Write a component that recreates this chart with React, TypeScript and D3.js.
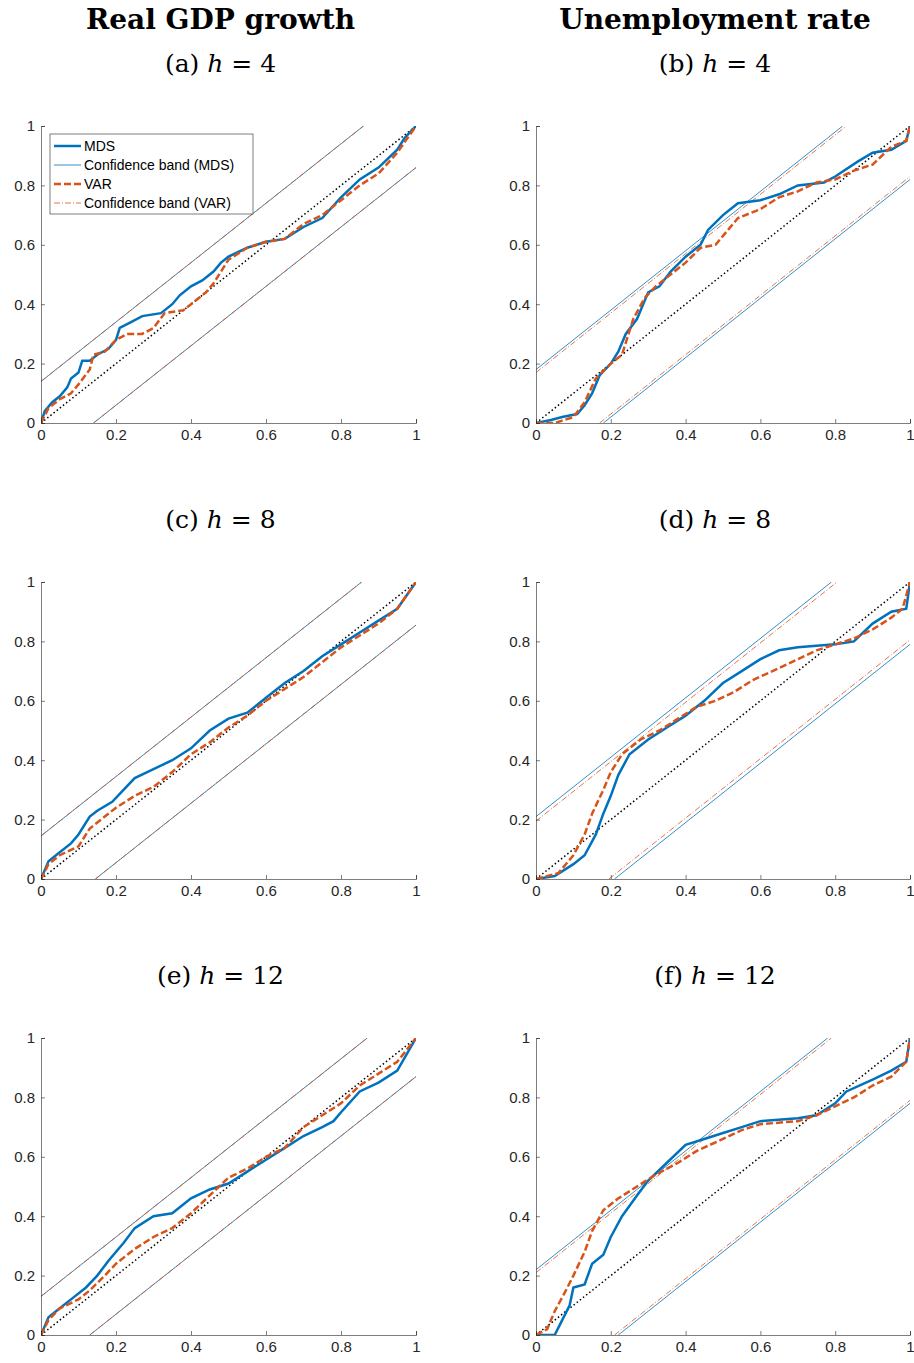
import React, { useEffect, useRef } from 'react';
import * as d3 from 'd3';

type P = [number, number];

const colTitles = ['Real GDP growth', 'Unemployment rate'];
const panelLetters = ['a', 'b', 'c', 'd', 'e', 'f'];
const horizons = [4, 4, 8, 8, 12, 12];
const ticks = [0, 0.2, 0.4, 0.6, 0.8, 1];

// band half-widths [MDS, VAR]
const bands: P[] = [[0.14, 0.14], [0.18, 0.17], [0.145, 0.145], [0.21, 0.195], [0.13, 0.13], [0.22, 0.21]];

const mdsCurves: P[][] = [
  [[0,0],[0.01,0.04],[0.03,0.07],[0.05,0.09],[0.07,0.12],[0.08,0.15],[0.1,0.17],[0.11,0.21],[0.13,0.21],[0.15,0.23],[0.18,0.25],[0.2,0.28],[0.21,0.32],[0.24,0.34],[0.27,0.36],[0.32,0.37],[0.35,0.4],[0.37,0.43],[0.4,0.46],[0.43,0.48],[0.46,0.51],[0.48,0.54],[0.5,0.56],[0.55,0.59],[0.6,0.61],[0.65,0.62],[0.7,0.66],[0.75,0.69],[0.8,0.76],[0.85,0.82],[0.9,0.86],[0.95,0.92],[0.97,0.96],[1,1]],
  [[0,0],[0.04,0.01],[0.07,0.02],[0.11,0.03],[0.13,0.06],[0.15,0.1],[0.17,0.16],[0.2,0.2],[0.22,0.24],[0.24,0.3],[0.27,0.35],[0.3,0.44],[0.33,0.46],[0.36,0.51],[0.4,0.56],[0.44,0.6],[0.46,0.65],[0.5,0.7],[0.54,0.74],[0.6,0.75],[0.65,0.77],[0.7,0.8],[0.77,0.81],[0.8,0.83],[0.86,0.88],[0.9,0.91],[0.95,0.92],[0.99,0.95],[1,1]],
  [[0,0],[0.02,0.06],[0.05,0.09],[0.08,0.12],[0.1,0.15],[0.13,0.21],[0.15,0.23],[0.19,0.26],[0.22,0.3],[0.25,0.34],[0.3,0.37],[0.35,0.4],[0.4,0.44],[0.45,0.5],[0.5,0.54],[0.55,0.56],[0.6,0.61],[0.65,0.66],[0.7,0.7],[0.75,0.75],[0.8,0.79],[0.85,0.83],[0.9,0.87],[0.95,0.91],[1,1]],
  [[0,0],[0.05,0.01],[0.1,0.05],[0.13,0.08],[0.16,0.15],[0.18,0.22],[0.2,0.28],[0.22,0.35],[0.25,0.42],[0.3,0.47],[0.35,0.51],[0.4,0.55],[0.45,0.6],[0.5,0.66],[0.55,0.7],[0.6,0.74],[0.65,0.77],[0.7,0.78],[0.8,0.79],[0.85,0.8],[0.9,0.86],[0.95,0.9],[0.99,0.91],[1,1]],
  [[0,0],[0.02,0.06],[0.05,0.09],[0.08,0.12],[0.12,0.16],[0.15,0.2],[0.18,0.25],[0.22,0.31],[0.25,0.36],[0.3,0.4],[0.35,0.41],[0.4,0.46],[0.45,0.49],[0.5,0.51],[0.55,0.55],[0.6,0.59],[0.65,0.63],[0.7,0.67],[0.75,0.7],[0.78,0.72],[0.8,0.75],[0.85,0.82],[0.9,0.85],[0.95,0.89],[1,1]],
  [[0,0],[0.05,0],[0.07,0.05],[0.09,0.1],[0.1,0.16],[0.13,0.17],[0.15,0.24],[0.18,0.27],[0.2,0.33],[0.23,0.4],[0.27,0.47],[0.3,0.52],[0.35,0.58],[0.4,0.64],[0.45,0.66],[0.5,0.68],[0.55,0.7],[0.6,0.72],[0.7,0.73],[0.75,0.74],[0.8,0.78],[0.83,0.82],[0.9,0.86],[0.95,0.89],[0.99,0.92],[1,1]],
];

const varCurves: P[][] = [
  [[0,0],[0.02,0.05],[0.05,0.08],[0.08,0.1],[0.1,0.13],[0.13,0.18],[0.14,0.23],[0.17,0.24],[0.2,0.28],[0.23,0.3],[0.27,0.3],[0.3,0.32],[0.33,0.37],[0.38,0.38],[0.41,0.41],[0.44,0.44],[0.46,0.47],[0.5,0.55],[0.55,0.59],[0.6,0.61],[0.65,0.62],[0.7,0.67],[0.75,0.7],[0.8,0.75],[0.85,0.8],[0.9,0.84],[0.95,0.91],[1,1]],
  [[0,0],[0.05,0],[0.1,0.02],[0.13,0.07],[0.16,0.15],[0.2,0.2],[0.23,0.23],[0.26,0.35],[0.29,0.42],[0.32,0.46],[0.36,0.5],[0.4,0.54],[0.44,0.59],[0.48,0.6],[0.5,0.63],[0.54,0.69],[0.6,0.72],[0.65,0.76],[0.7,0.78],[0.75,0.81],[0.8,0.82],[0.85,0.85],[0.9,0.87],[0.95,0.93],[0.99,0.95],[1,1]],
  [[0,0],[0.02,0.05],[0.05,0.08],[0.1,0.11],[0.13,0.17],[0.16,0.2],[0.2,0.24],[0.25,0.28],[0.3,0.31],[0.35,0.36],[0.4,0.42],[0.45,0.46],[0.5,0.51],[0.55,0.55],[0.6,0.6],[0.65,0.64],[0.7,0.68],[0.75,0.73],[0.8,0.78],[0.85,0.82],[0.9,0.86],[0.95,0.91],[1,1]],
  [[0,0],[0.06,0.02],[0.1,0.08],[0.13,0.15],[0.15,0.22],[0.18,0.3],[0.2,0.36],[0.23,0.42],[0.28,0.47],[0.33,0.5],[0.38,0.54],[0.43,0.58],[0.48,0.6],[0.53,0.63],[0.58,0.67],[0.65,0.71],[0.7,0.74],[0.75,0.77],[0.8,0.79],[0.85,0.81],[0.9,0.84],[0.95,0.88],[0.98,0.91],[1,1]],
  [[0,0],[0.02,0.05],[0.05,0.09],[0.1,0.12],[0.13,0.15],[0.17,0.2],[0.2,0.24],[0.25,0.29],[0.3,0.33],[0.35,0.36],[0.4,0.41],[0.45,0.47],[0.5,0.53],[0.55,0.56],[0.6,0.6],[0.65,0.63],[0.7,0.7],[0.75,0.74],[0.8,0.78],[0.85,0.84],[0.9,0.88],[0.95,0.92],[1,1]],
  [[0,0],[0.03,0.02],[0.05,0.08],[0.08,0.15],[0.1,0.2],[0.13,0.28],[0.15,0.35],[0.18,0.42],[0.22,0.46],[0.27,0.5],[0.32,0.54],[0.38,0.58],[0.43,0.62],[0.5,0.66],[0.55,0.69],[0.6,0.71],[0.7,0.72],[0.75,0.74],[0.8,0.77],[0.85,0.8],[0.9,0.84],[0.95,0.87],[0.99,0.92],[1,1]],
];

const legendItems = ['MDS', 'Confidence band (MDS)', 'VAR', 'Confidence band (VAR)'];

const BLUE = '#0072BD';
const RED = '#D95319';
const colX: P[] = [[41, 416], [536, 910]];
const rowY: P[] = [[126, 423], [582, 879], [1038, 1335]];

const App: React.FC = () => {
  const ref = useRef<SVGSVGElement | null>(null);

  useEffect(() => {
    const svg = d3.select(ref.current);
    svg.selectAll('*').remove();

    colTitles.forEach((t, c) => {
      svg.append('text').attr('x', (colX[c][0] + colX[c][1]) / 2 - 8).attr('y', 29)
        .attr('text-anchor', 'middle').attr('font-family', 'DejaVu Serif').attr('font-weight', 'bold')
        .attr('font-size', 28).text(t);
    });

    panelLetters.forEach((letter, i) => {
      const c = i % 2, r = Math.floor(i / 2);
      const x = d3.scaleLinear().domain([0, 1]).range(colX[c]);
      const y = d3.scaleLinear().domain([0, 1]).range([rowY[r][1], rowY[r][0]]);
      const g = svg.append('g');

      const sub = g.append('text').attr('x', (colX[c][0] + colX[c][1]) / 2 - 8).attr('y', rowY[r][0] - 54)
        .attr('text-anchor', 'middle').attr('font-family', 'DejaVu Serif').attr('font-size', 25);
      sub.append('tspan').text(`(${letter}) `);
      sub.append('tspan').attr('font-style', 'italic').text('h');
      sub.append('tspan').text(` = ${horizons[i]}`);

      const line = d3.line<P>().x(d => x(d[0])).y(d => y(d[1]));
      const clipId = `clip${i}`;
      g.append('clipPath').attr('id', clipId).append('rect')
        .attr('x', colX[c][0]).attr('y', rowY[r][0]).attr('width', colX[c][1] - colX[c][0]).attr('height', rowY[r][1] - rowY[r][0]);
      const plot = g.append('g').attr('clip-path', `url(#${clipId})`);

      const [bm, bv] = bands[i];
      const bandLines = (b: number): P[][] => [[[0, b], [1 - b, 1]], [[b, 0], [1, 1 - b]]];
      bandLines(bm).forEach(l => plot.append('path').attr('d', line(l)!).attr('fill', 'none').attr('stroke', BLUE).attr('stroke-width', 0.8));
      bandLines(bv).forEach(l => plot.append('path').attr('d', line(l)!).attr('fill', 'none').attr('stroke', RED).attr('stroke-width', 0.8).attr('stroke-dasharray', '6,2,1,2'));
      plot.append('path').attr('d', line([[0, 0], [1, 1]])!).attr('fill', 'none').attr('stroke', '#000').attr('stroke-width', 1.5).attr('stroke-dasharray', '1.5,2.5');
      plot.append('path').attr('d', line(mdsCurves[i])!).attr('fill', 'none').attr('stroke', BLUE).attr('stroke-width', 2.5);
      plot.append('path').attr('d', line(varCurves[i])!).attr('fill', 'none').attr('stroke', RED).attr('stroke-width', 2.5).attr('stroke-dasharray', '7,3');

      const fmt = (d: d3.NumberValue) => (+d === 0 || +d === 1 ? String(+d) : (+d).toFixed(1));
      const xa = g.append('g').attr('transform', `translate(0,${rowY[r][1]})`)
        .call(d3.axisBottom(x).tickValues(ticks).tickFormat(fmt).tickSize(-4).tickPadding(6));
      const ya = g.append('g').attr('transform', `translate(${colX[c][0]},0)`)
        .call(d3.axisLeft(y).tickValues(ticks).tickFormat(fmt).tickSize(-4).tickPadding(6));
      [xa, ya].forEach(a => {
        a.selectAll('path,line').attr('stroke', '#262626').attr('stroke-width', 0.6);
        a.selectAll('text').attr('font-family', 'Liberation Sans').attr('font-size', 15).attr('fill', '#262626');
      });

      if (i === 0) {
        const lg = g.append('g').attr('transform', 'translate(50,134)');
        lg.append('rect').attr('width', 203).attr('height', 80).attr('fill', '#fff').attr('stroke', '#262626').attr('stroke-width', 0.6);
        legendItems.forEach((t, k) => {
          const yy = 12 + k * 19;
          const l = lg.append('line').attr('x1', 4).attr('x2', 31).attr('y1', yy).attr('y2', yy)
            .attr('stroke', k < 2 ? BLUE : RED).attr('stroke-width', k % 2 === 0 ? 2.5 : 0.8);
          if (k === 2) l.attr('stroke-dasharray', '7,3');
          if (k === 3) l.attr('stroke-dasharray', '6,2,1,2');
          lg.append('text').attr('x', 34).attr('y', yy + 5).attr('font-family', 'Liberation Sans').attr('font-size', 14).attr('fill', '#000').text(t);
        });
      }
    });
  }, []);

  return <svg ref={ref} width={914} height={1363} style={{ position: 'absolute', left: 0, top: 0, background: '#fff' }} />;
};

export default App;
